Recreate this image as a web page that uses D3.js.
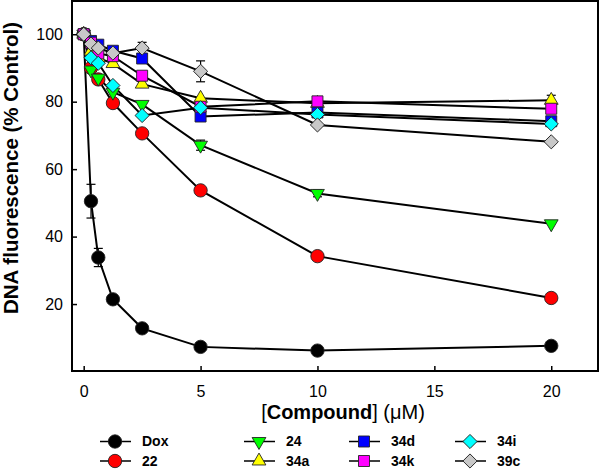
<!DOCTYPE html>
<html><head><meta charset="utf-8">
<script src="https://cdn.jsdelivr.net/npm/d3@7"></script>
<style>body{margin:0;background:#fff;}svg{display:block;font-family:"Liberation Sans",Arial,sans-serif;}</style>
</head><body>
<svg id="chart" width="600" height="469"></svg>
<script>
const concentrations = [0, 0.3125, 0.625, 1.25, 2.5, 5, 10, 20];
const xTicks = [0, 5, 10, 15, 20];
const yTicks = [20, 40, 60, 80, 100];
const seriesNames = ["Dox", "22", "24", "34a", "34d", "34k", "34i", "39c"];
const valDox = [100, 50.5, 33.8, 21.4, 12.8, 7.3, 6.2, 7.6];
const val22  = [100, 90, 86.6, 79.6, 70.6, 53.7, 34.2, 21.8];
const val24  = [100, 89.4, 87, 82.8, 79.2, 67.1, 52.8, 43.8];
const val34a = [100, 95, 93, 91.3, 85.2, 81, 79.5, 80.4];
const val34d = [100, 98, 96.9, 95.1, 92.8, 75.6, 76.8, 74.2];
const val34k = [100, 97.5, 94.3, 93.5, 87.7, 78.5, 80.1, 77.9];
const val34i = [100, 93, 91.4, 84.8, 75.9, 78.2, 76.2, 73.4];
const val39c = [100, 97.1, 95.9, 94.4, 95.9, 89, 73.1, 68.1];
const errDox = [0, 5, 2.7, 0, 0, 0, 0, 0];
const err24  = [0, 0, 0, 0, 0, 1.5, 1, 0];
const err34a = [0, 0, 0, 0, 0, 0, 0, 1.5];
const err39c = [0, 0, 0, 0, 1.7, 3.1, 0, 0];
const errNone = [0, 0, 0, 0, 0, 0, 0, 0];

const styles = {
  "Dox": {fill: "#000000", shape: "circle"},
  "22":  {fill: "#ff0000", shape: "circle"},
  "24":  {fill: "#00ff00", shape: "triDown"},
  "34a": {fill: "#ffff00", shape: "triUp"},
  "34d": {fill: "#0000ff", shape: "square"},
  "34k": {fill: "#ff00ff", shape: "square"},
  "34i": {fill: "#00ffff", shape: "diamond"},
  "39c": {fill: "#c8c8c8", shape: "diamond"}
};
const valuesList = [valDox, val22, val24, val34a, val34d, val34k, val34i, val39c];
const errList = [errDox, errNone, err24, err34a, errNone, errNone, errNone, err39c];
const series = seriesNames.map((n, i) => ({name: n, values: valuesList[i], err: errList[i]}));

const svg = d3.select("#chart");
const x = d3.scaleLinear().domain([-0.5, 22]).range([72, 598]);
const y = d3.scaleLinear().domain([0, 110]).range([371.5, 0.5]);

function symPath(shape) {
  if (shape === "circle") return d3.symbol(d3.symbolCircle, 140)();
  if (shape === "square") return d3.symbol(d3.symbolSquare, 121)();
  if (shape === "diamond") return d3.symbol(d3.symbolSquare, 100)();
  return d3.symbol(d3.symbolTriangle, 82)();
}
function symTransform(shape, px, py) {
  if (shape === "diamond") return `translate(${px},${py}) rotate(45)`;
  if (shape === "triDown") return `translate(${px},${py}) rotate(180)`;
  return `translate(${px},${py})`;
}

// lines
const line = d3.line().x((d, i) => x(concentrations[i])).y(d => y(d));
svg.append("g").selectAll("path").data(series).join("path")
  .attr("d", s => line(s.values)).attr("fill", "none")
  .attr("stroke", "#000").attr("stroke-width", 2);

// error bars
const eg = svg.append("g").attr("stroke", "#000").attr("stroke-width", 1.2);
series.forEach(s => {
  s.values.forEach((v, i) => {
    const e = s.err[i];
    if (!e) return;
    const px = x(concentrations[i]);
    eg.append("line").attr("x1", px).attr("x2", px).attr("y1", y(v - e)).attr("y2", y(v + e));
    [v - e, v + e].forEach(b => eg.append("line").attr("x1", px - 4.5).attr("x2", px + 4.5).attr("y1", y(b)).attr("y2", y(b)));
  });
});

// markers
series.forEach(s => {
  const st = styles[s.name];
  svg.append("g").selectAll("path").data(s.values).join("path")
    .attr("d", symPath(st.shape))
    .attr("transform", (v, i) => symTransform(st.shape, x(concentrations[i]), y(v)))
    .attr("fill", st.fill).attr("stroke", "#222").attr("stroke-width", 0.9);
});

// frame
svg.append("rect").attr("x", 72).attr("y", 1).attr("width", 526).attr("height", 370)
  .attr("fill", "none").attr("stroke", "#000").attr("stroke-width", 2);

// axes
const xAxis = svg.append("g").attr("transform", "translate(0,371)")
  .call(d3.axisBottom(x).tickValues(xTicks).tickSizeInner(-5).tickSizeOuter(0).tickPadding(15));
const yAxis = svg.append("g").attr("transform", "translate(72,0)")
  .call(d3.axisLeft(y).tickValues(yTicks).tickSizeInner(-5).tickSizeOuter(0).tickPadding(9));
[xAxis, yAxis].forEach(a => {
  a.select(".domain").remove();
  a.selectAll(".tick line").attr("stroke", "#000").attr("stroke-width", 1.5);
  a.selectAll(".tick text").attr("font-size", 16).attr("fill", "#000")
    .attr("font-family", "'Liberation Sans', Arial, sans-serif");
});

// axis titles
const xt = svg.append("text").attr("x", 343).attr("y", 419).attr("text-anchor", "middle")
  .attr("font-size", 20).attr("fill", "#000");
xt.append("tspan").text("[");
xt.append("tspan").attr("font-weight", "bold").text("Compound");
xt.append("tspan").text("] (μM)");

svg.append("text").attr("transform", "translate(18,168) rotate(-90)")
  .attr("text-anchor", "middle").attr("font-size", 20.5).attr("font-weight", "bold")
  .attr("fill", "#000").text("DNA fluorescence (% Control)");

// legend
const legCols = [115, 259, 364, 470];
const legRows = [441.5, 461];
series.forEach((s, i) => {
  const cx = legCols[Math.floor(i / 2)], cy = legRows[i % 2];
  const st = styles[s.name];
  const g = svg.append("g");
  g.append("line").attr("x1", cx - 15).attr("x2", cx + 16).attr("y1", cy).attr("y2", cy)
    .attr("stroke", "#000").attr("stroke-width", 1.5);
  g.append("path").attr("d", symPath(st.shape)).attr("transform", symTransform(st.shape, cx, cy))
    .attr("fill", st.fill).attr("stroke", "#222").attr("stroke-width", 0.9);
  g.append("text").attr("x", cx + 27).attr("y", cy).attr("dy", "0.35em")
    .attr("font-size", 14).attr("font-weight", "bold").attr("fill", "#000").text(s.name);
});
</script>
</body></html>
